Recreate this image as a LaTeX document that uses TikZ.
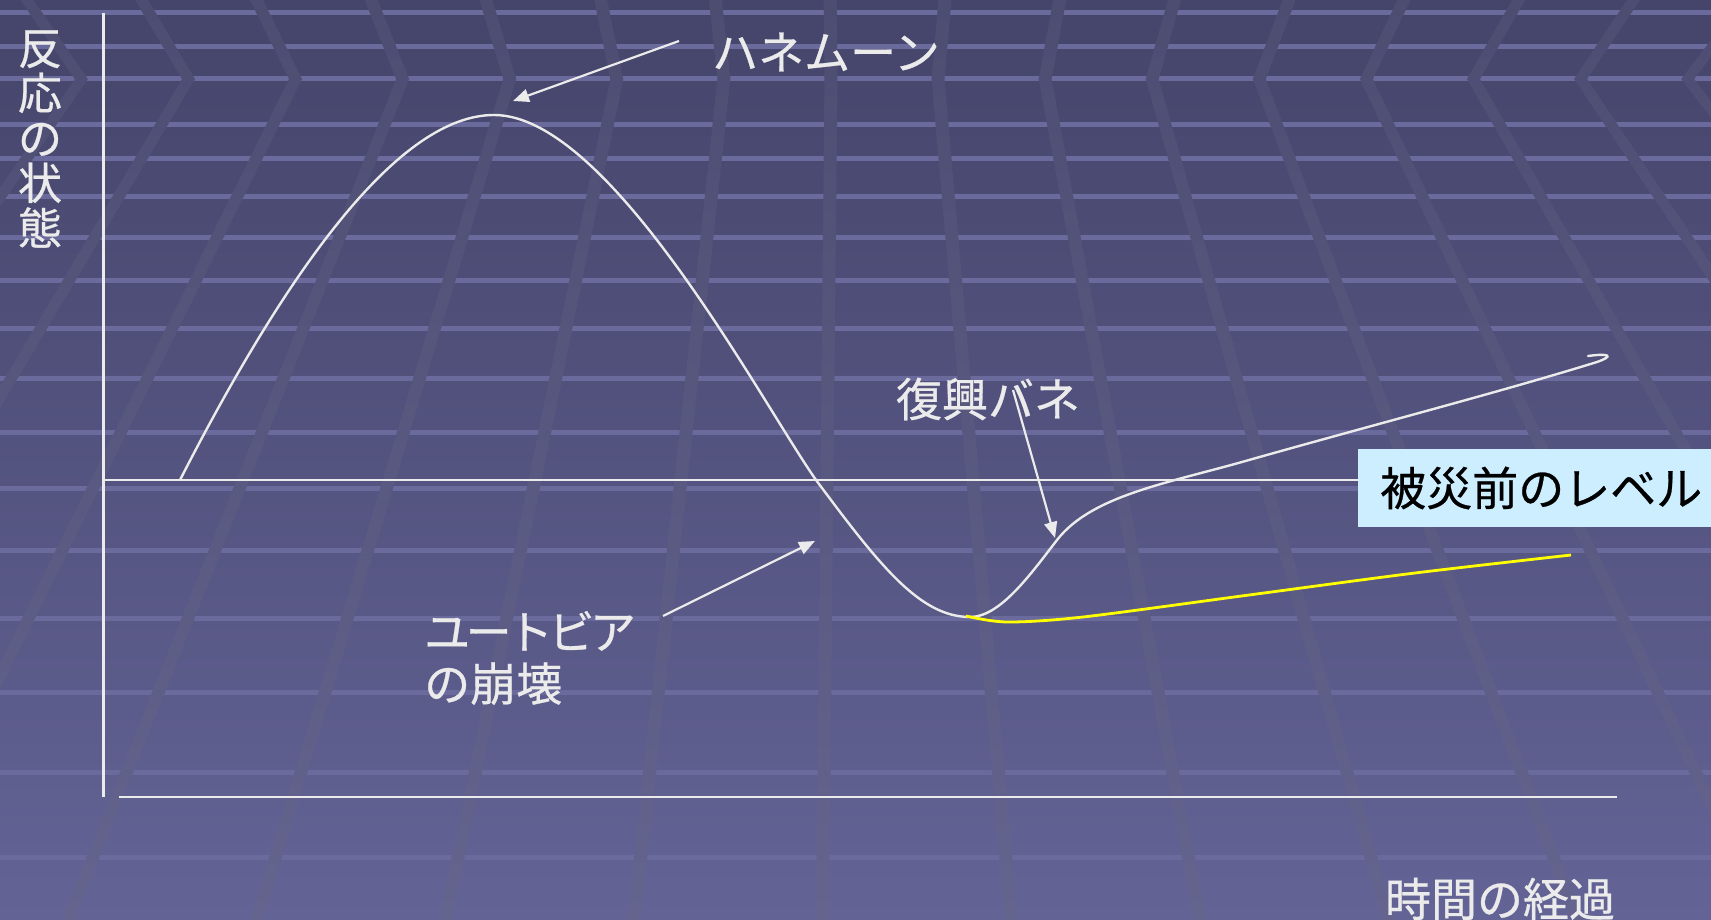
\documentclass[tikz,border=0pt]{standalone}
\usepackage{fontspec}
\newfontfamily\jp[FakeBold=0.6]{Noto Sans CJK JP}
\usetikzlibrary{arrows.meta}
\definecolor{bgtop}{HTML}{45446A}
\definecolor{bgmid}{HTML}{54547F}
\definecolor{bgbot}{HTML}{636396}
\definecolor{bandtop}{HTML}{4D4C71}
\definecolor{bandmid}{HTML}{58577F}
\definecolor{bandbot}{HTML}{65648F}
\definecolor{stripe}{HTML}{6A6A9C}
\definecolor{ink}{HTML}{EBEBEB}
\definecolor{levelblue}{HTML}{CCEEFF}
\definecolor{yel}{HTML}{FFFF00}
\begin{document}
\begin{tikzpicture}[x=1pt,y=-1pt,
  axisline/.style={draw=ink, line width=2.6pt},
  wcurve/.style={draw=ink, line width=2.4pt, line cap=round},
  ycurve/.style={draw=yel, line width=2.8pt},
  arr/.style={draw=ink, line width=2.2pt, -{Triangle[length=16pt,width=13pt]}},
  lab/.style={text=ink, inner sep=0pt, font={\jp\fontsize{46}{52}\selectfont}, align=left},
  stripeline/.style={draw=stripe, line width=5pt}]
\useasboundingbox (0,0) rectangle (1711,920);
\clip (0,0) rectangle (1711,920);
% background
\shade[top color=bgtop, middle color=bgmid, bottom color=bgbot] (0,0) rectangle (1711,920);
\foreach \s in {13,47,79,125,159,197,238,280,328,378,432,488,550,618,692,772,857}
  \draw[stripeline] (0,\s) -- (1711,\s);
\shade[top color=bandtop, middle color=bandmid, bottom color=bandbot]
  \foreach \k [evaluate=\k as \sl using {-0.010+0.097*\k},
               evaluate=\k as \xm using {842+(-0.010+0.097*\k)*1104}] in {-7,...,8} {
    ({\xm+(\sl)*79-6.5},0) -- ({\xm-6.5},79) -- ({\xm+(\sl)*841-6.5},920)
    -- ({\xm+(\sl)*841+6.5},920) -- ({\xm+6.5},79) -- ({\xm+(\sl)*79+6.5},0) -- cycle
  };
% level box
\node[fill=levelblue, text=black, anchor=west, inner xsep=22pt, inner ysep=0pt,
      minimum height=78pt, font={\jp\fontsize{46}{52}\selectfont}] (level) at (1358,488) {被災前のレベル};
% axes
\coordinate (ytop) at (103.5,13);
\coordinate (ybot) at (103.5,797);
\coordinate (xl) at (119,797);
\coordinate (xr) at (1617,797);
\coordinate (b0) at (103.5,480);
\draw[axisline] (ytop) -- (ybot);
\draw[axisline] (xl) -- (xr);
\draw[axisline] (b0) -- (b0 -| level.west);
% curves
\draw[wcurve] (180,480) .. controls (290,265) and (400,115) .. (494,115)
  .. controls (610,115) and (760,400) .. (816,480)
  .. controls (880,566) and (920,617) .. (970,617)
  .. controls (1000,617) and (1030,575) .. (1057,540)
  .. controls (1092,495) and (1169,483) .. (1249,460)
  .. controls (1380,423) and (1500,392) .. (1597,362)
  .. controls (1614,356) and (1610,353) .. (1588,356);
\draw[ycurve] plot[smooth, tension=0.5] coordinates {
  (966,616) (1007,622) (1083,617) (1249,595) (1415,573) (1571,555)};
% labels
\node[lab, align=center, font={\jp\fontsize{44}{45}\selectfont}] (ylab) at (40,139) {反\\応\\の\\状\\態};
\node[lab] (hm) at (826,52) {ハネムーン};
\node[lab] (fk) at (988,399) {復興バネ};
\node[lab, anchor=west] (ut) at (424,658) {{\addfontfeature{LetterSpace=-10}ユートビア}\\の崩壊};
\node[lab] (tm) at (1500,899) {時間の経過};
% arrows
\coordinate (hmA) at (679,41);
\coordinate (hmB) at (513,101);
\coordinate (utA) at (663,616);
\coordinate (utB) at (815,541);
\coordinate (fkA) at (1013,390);
\coordinate (fkB) at (1055,538);
\draw[arr] (hmA) -- (hmB);
\draw[arr] (utA) -- (utB);
\draw[arr] (fkA) -- (fkB);
\end{tikzpicture}
\end{document}
